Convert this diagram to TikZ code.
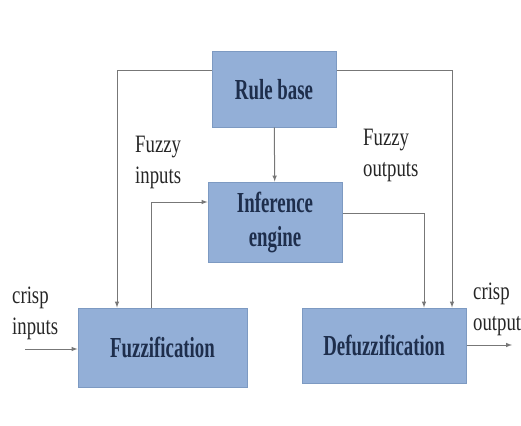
\documentclass[tikz,border=0pt]{standalone}
\usepackage{fontspec}
\setmainfont{Liberation Serif}
\newfontfamily\boxfont[FakeStretch=0.65]{Liberation Serif}
\newfontfamily\labfont[FakeStretch=0.75]{Liberation Serif}
\usepackage{tikz}
\usetikzlibrary{scopes,positioning}
\definecolor{boxfill}{HTML}{93AFD7}
\definecolor{boxline}{HTML}{7D9AC2}
\definecolor{boxtext}{HTML}{1E2E4C}
\definecolor{wire}{HTML}{777777}
\tikzset{
  block/.style={draw=boxline,fill=boxfill,line width=1pt,align=center,
    text=boxtext,font={\boxfont\bfseries\fontsize{29}{34}\selectfont}},
  lab/.style={anchor=north west,align=left,inner sep=0pt,text=black!85,
    font={\labfont\fontsize{25}{31}\selectfont}},
  route/.style={-latex,line width=1pt,draw=wire}
}
\begin{document}
\begin{tikzpicture}[x=1pt,y=-1pt]
  \useasboundingbox (0,0) rectangle (521,425);
  \node[block,minimum width=124pt,minimum height=75pt] (rule) at (274,89.5) {Rule base};
  \node[block,minimum width=134pt,minimum height=80pt] (infer) at (275,222) {Inference\\engine};
  \node[block,minimum width=169pt,minimum height=79pt] (fuzz) at (162.5,347.5) {Fuzzification};
  \node[block,minimum width=164pt,minimum height=75pt] (defuzz) at (384,345.5) {Defuzzification};
  % corners of the wires
  \coordinate (tl) at (117,71);
  \coordinate (tr) at (452,71);
  \coordinate (fi) at (151,202);
  \coordinate (fo) at (424,213);
  \coordinate (cin) at (25,349);
  \coordinate (cout) at (512,345);
  {[route]
    \draw (rule) -- (infer);
    \draw (rule.west |- tl) -- (tl) -- (tl |- fuzz.north);
    \draw (rule.east |- tr) -- (tr) -- (tr |- defuzz.north);
    \draw (fi |- fuzz.north) -- (fi) -- (fi -| infer.west);
    \draw (fo -| infer.east) -- (fo) -- (fo |- defuzz.north);
    \draw (cin) -- (cin -| fuzz.west);
    \draw (defuzz.east |- cout) -- (cout);
  }
  \node[lab] (fin) at (135,136) {Fuzzy\\inputs};
  \node[lab] (fout) at (363,129) {Fuzzy\\outputs};
  \node[lab] (crin) at (12,287) {crisp\\inputs};
  \node[lab] (crout) at (473,283) {crisp\\output};
\end{tikzpicture}
\end{document}
